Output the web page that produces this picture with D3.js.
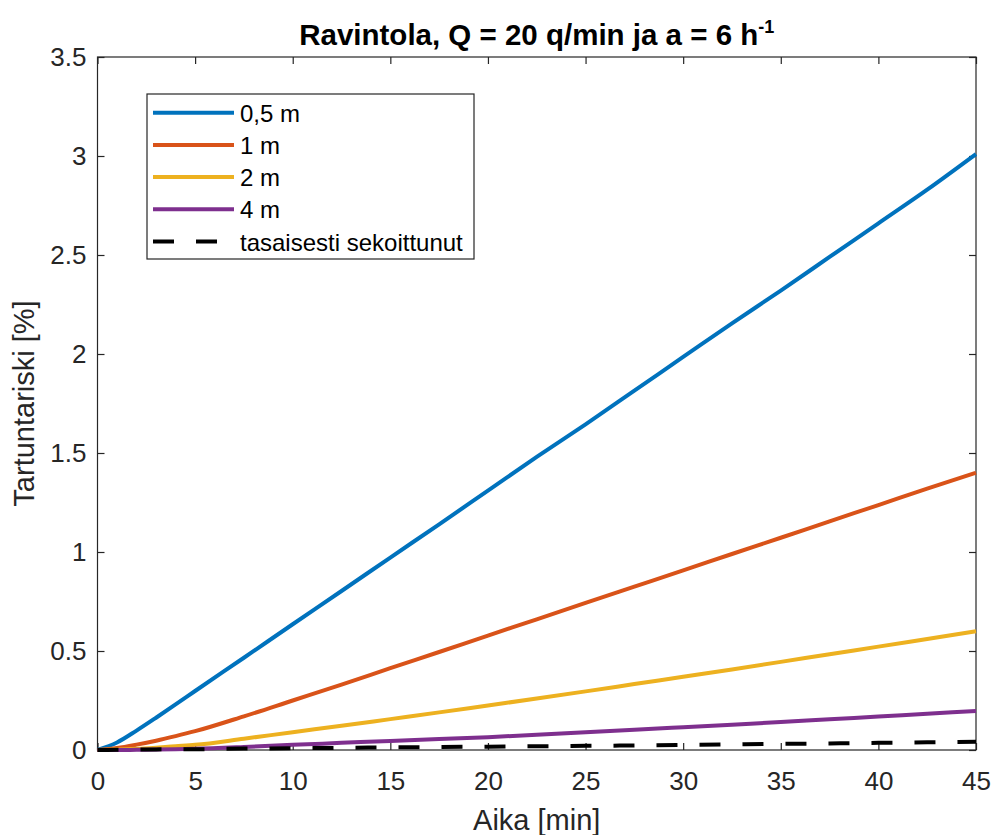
<!DOCTYPE html>
<html lang="fi">
<head>
<meta charset="utf-8">
<title>Ravintola</title>
<script src="https://d3js.org/d3.v7.min.js"></script>
<style>
  body { margin: 0; background: #fff; }
  svg { display: block; font-family: "Liberation Sans", Arial, sans-serif; }
</style>
</head>
<body>
<div id="viz"></div>
<script>
// data
const time    = [0, 1, 2, 3, 4, 5, 7.5, 10, 12.5, 15, 17.5, 20, 22.5, 25, 27.5, 30, 32.5, 35, 37.5, 40, 42.5, 45];
const dist05  = [0, 0.038, 0.098, 0.163, 0.23, 0.298, 0.466, 0.635, 0.803, 0.972, 1.14, 1.31, 1.48, 1.645, 1.815, 1.985, 2.155, 2.32, 2.49, 2.66, 2.83, 3.01];
const dist1   = [0, 0.01, 0.027, 0.047, 0.07, 0.095, 0.17, 0.25, 0.33, 0.413, 0.495, 0.578, 0.66, 0.743, 0.825, 0.907, 0.99, 1.072, 1.155, 1.237, 1.32, 1.40];
const dist2   = [0, 0.002, 0.006, 0.012, 0.019, 0.026, 0.057, 0.09, 0.122, 0.156, 0.19, 0.225, 0.26, 0.296, 0.333, 0.37, 0.407, 0.445, 0.484, 0.522, 0.561, 0.60];
const dist4   = [0, 0, 0.001, 0.002, 0.004, 0.006, 0.015, 0.026, 0.036, 0.046, 0.055, 0.065, 0.077, 0.09, 0.102, 0.115, 0.128, 0.141, 0.155, 0.169, 0.183, 0.197];
const mixed   = [0, 0.001, 0.002, 0.003, 0.004, 0.004, 0.007, 0.009, 0.011, 0.013, 0.015, 0.017, 0.019, 0.021, 0.023, 0.026, 0.028, 0.031, 0.033, 0.036, 0.039, 0.042];

const seriesNames  = ["0,5 m", "1 m", "2 m", "4 m", "tasaisesti sekoittunut"];
const seriesValues = [dist05, dist1, dist2, dist4, mixed];
const seriesColors = ["#0072BD", "#D95319", "#EDB120", "#7E2F8E", "#000000"];
const seriesDashed = [false, false, false, false, true];

const xTicks = [0, 5, 10, 15, 20, 25, 30, 35, 40, 45];
const yTicks = [0, 0.5, 1, 1.5, 2, 2.5, 3, 3.5];

const width = 993;
const height = 835;
const margin = {top: 57, right: 17, bottom: 85, left: 97.5};
const innerW = width - margin.left - margin.right;
const innerH = height - margin.top - margin.bottom;
const axisColor = "#262626";

const svg = d3.select("#viz")
    .append("svg")
    .attr("width", width)
    .attr("height", height);

const g = svg.append("g")
    .attr("transform", `translate(${margin.left},${margin.top})`);

const xScale = d3.scaleLinear().domain([0, 45]).range([0, innerW]);
const yScale = d3.scaleLinear().domain([0, 3.5]).range([innerH, 0]);

// axes, ticks pointing inward like matlab
const xAxis = d3.axisBottom(xScale).tickValues(xTicks).tickFormat(d3.format("")).tickSizeInner(-7).tickSizeOuter(0).tickPadding(22);
const yAxis = d3.axisLeft(yScale).tickValues(yTicks).tickFormat(d3.format("")).tickSizeInner(-7).tickSizeOuter(0).tickPadding(11);
const xTop = d3.axisTop(xScale).tickValues(xTicks).tickFormat("").tickSizeInner(-7).tickSizeOuter(0);
const yRight = d3.axisRight(yScale).tickValues(yTicks).tickFormat("").tickSizeInner(-7).tickSizeOuter(0);

g.append("g").attr("class", "x axis").attr("transform", `translate(0,${innerH})`).call(xAxis);
g.append("g").attr("class", "y axis").call(yAxis);
g.append("g").attr("class", "x axis top").call(xTop);
g.append("g").attr("class", "y axis right").attr("transform", `translate(${innerW},0)`).call(yRight);

g.selectAll(".axis .domain").remove();
g.selectAll(".axis line").attr("stroke", axisColor).attr("stroke-width", 1.2);
g.selectAll(".axis text")
    .attr("fill", axisColor)
    .style("font-size", "26px")
    .style("font-family", "'Liberation Sans', Arial, sans-serif");

g.append("rect")
    .attr("x", 0).attr("y", 0)
    .attr("width", innerW).attr("height", innerH)
    .attr("fill", "none")
    .attr("stroke", axisColor)
    .attr("stroke-width", 1.2);

// lines
const line = d3.line()
    .x((d, i) => xScale(time[i]))
    .y(d => yScale(d))
    .curve(d3.curveMonotoneX);

seriesValues.forEach((vals, k) => {
    g.append("path")
        .datum(vals)
        .attr("d", line)
        .attr("fill", "none")
        .attr("stroke", seriesColors[k])
        .attr("stroke-width", 4)
        .attr("stroke-linejoin", "round")
        .attr("stroke-dasharray", seriesDashed[k] ? "21,22" : null);
});

// labels
svg.append("text")
    .attr("x", margin.left + innerW / 2)
    .attr("y", 830)
    .attr("text-anchor", "middle")
    .attr("fill", axisColor)
    .style("font-size", "29px")
    .text("Aika [min]");

svg.append("text")
    .attr("transform", `translate(34,${margin.top + innerH / 2}) rotate(-90)`)
    .attr("text-anchor", "middle")
    .attr("fill", axisColor)
    .style("font-size", "29px")
    .text("Tartuntariski [%]");

const title = svg.append("text")
    .attr("x", margin.left + innerW / 2)
    .attr("y", 45)
    .attr("text-anchor", "middle")
    .attr("fill", "#000")
    .style("font-size", "29.5px")
    .style("font-weight", "bold");
title.append("tspan").text("Ravintola, Q = 20 q/min ja a = 6 h");
title.append("tspan").attr("dy", -12).style("font-size", "18px").text("-1");

// legend
const legend = svg.append("g").attr("class", "legend");
legend.append("rect")
    .attr("x", 147).attr("y", 94)
    .attr("width", 327).attr("height", 165)
    .attr("fill", "#fff")
    .attr("stroke", axisColor)
    .attr("stroke-width", 1.2);

const rows = legend.selectAll("g.row")
    .data(seriesNames)
    .enter()
    .append("g")
    .attr("class", "row")
    .attr("transform", (d, i) => `translate(0,${112.7 + i * 32.2})`);

rows.append("line")
    .attr("x1", 153).attr("x2", 234)
    .attr("y1", 0).attr("y2", 0)
    .attr("stroke", (d, i) => seriesColors[i])
    .attr("stroke-width", 4)
    .attr("stroke-dasharray", (d, i) => seriesDashed[i] ? "21,22" : null);

rows.append("text")
    .attr("x", 240)
    .attr("y", 9)
    .attr("fill", "#000")
    .style("font-size", "24px")
    .text(d => d);
</script>
</body>
</html>
